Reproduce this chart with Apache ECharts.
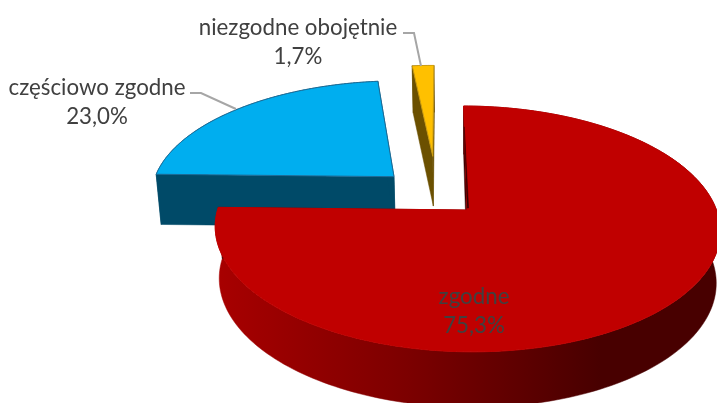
<!DOCTYPE html>
<html>
<head>
<meta charset="utf-8">
<title>Pie</title>
<script src="https://cdn.jsdelivr.net/npm/echarts@6/dist/echarts.min.js"></script>
<style>
    html, body {margin: 0; padding: 0; background: #fff;}
    #chart {width: 717px; height: 403px;}
</style>
</head>
<body>
<div id="chart"></div>
<script>
var categories = ['zgodne', 'częściowo zgodne', 'niezgodne obojętnie'];
var shares = [75.3, 23.0, 1.7];

// perspective of the pie plane
var cx = 467, cy = 210, radiusX = 249.5, radiusY = 120, tilt = 0.154, shear = 0.04, startAngle = 0.2;
// how far each slice is pulled out, in pie radii (x right, y to the back)
var explode = [[0, 0], [-0.3, 0.29], [-0.138, 0.48]];
var topColors = ['#c00000', '#00aeef', '#ffc000'];
var edgeColors = ['#c00000', '#1c6a96', '#c99a10'];
var wallColors = [
    {type: 'linear', x: 216, y: 0, x2: 600, y2: 0, global: true, colorStops: [
        {offset: 0, color: '#a80000'},
        {offset: 0.5, color: '#7c0000'},
        {offset: 1, color: '#480000'}
    ]},
    '#004a68',
    '#6b5000'
];
var sliceZ = [30, 10, 20];
// label centre and leader line points
var labelPos = [[474, 311], [97, 102], [298, 42]];
var leaders = [null, [[190, 93], [201, 93], [236, 109]], [[403, 33], [414, 33], [421, 66]]];

function project(x, y) {
    var w = 1 + tilt * y;
    var sy = cy - radiusY * y / w;
    return [cx + radiusX * x / w + shear * (sy - cy), sy];
}

// same point on the bottom of the pie
function lower(p) {
    return [p[0] + (cx - p[0]) * 0.016, p[1] + 51 + (p[1] - 200) * 0.03];
}

function slicePoint(i, angle) {
    var a = angle * Math.PI / 180;
    return project(Math.sin(a) + explode[i][0], Math.cos(a) + explode[i][1]);
}

function renderSlice(params, api) {
    var i = params.dataIndex;
    var from = startAngle;
    for (var k = 0; k < i; k++) {
        from += shares[k] * 3.6;
    }
    var to = from + api.value(0) * 3.6;

    var arc = [];
    for (var n = 0; n <= 200; n++) {
        arc.push(slicePoint(i, from + (to - from) * n / 200));
    }
    var apex = project(explode[i][0], explode[i][1]);
    var first = arc[0], last = arc[arc.length - 1];
    var z = sliceZ[i];
    var wall = wallColors[i];

    function poly(points, fill, stroke, zz) {
        return {
            type: 'polygon',
            shape: {points: points},
            style: {fill: fill, stroke: stroke || fill, lineWidth: stroke ? 1 : 0.5},
            z2: zz
        };
    }

    var children = [
        poly(arc.concat(arc.map(lower).reverse()), wall, null, z),
        poly([apex, first, lower(first), lower(apex)], i === 0 ? '#3a0000' : wall, null, z),
        poly([apex, last, lower(last), lower(apex)], i === 0 ? '#3a0000' : wall, null, z),
        poly([apex].concat(arc), topColors[i], edgeColors[i], z + 1)
    ];

    // thin dark shadow along the cut of the big slice
    if (i === 0) {
        var along = [first[0] + (apex[0] - first[0]) * 0.2, first[1] + (apex[1] - first[1]) * 0.2];
        children.push(poly([along, [apex[0] + 1.6, apex[1] - 2], [apex[0] + 0.2, apex[1] - 2]], '#3a0000', null, z + 2));
    }

    if (leaders[i]) {
        children.push({
            type: 'polyline',
            shape: {points: leaders[i]},
            style: {stroke: '#a6a6a6', lineWidth: 2, fill: null},
            z2: 50
        });
    }

    var value = api.value(0).toFixed(1).replace('.', ',') + '%';
    children.push({
        type: 'text',
        style: {
            x: labelPos[i][0],
            y: labelPos[i][1],
            text: categories[i] + '\n' + value,
            fill: '#404040',
            font: '22.3px Lato',
            lineHeight: 29,
            align: 'center',
            verticalAlign: 'middle'
        },
        z2: 60
    });
    return {type: 'group', children: children};
}

var myChart = echarts.init(document.getElementById('chart'));
myChart.setOption({
    animation: false,
    series: [
        {
            type: 'custom',
            coordinateSystem: 'none',
            silent: true,
            renderItem: renderSlice,
            data: shares.map(function (v) { return [v]; })
        }
    ]
});
</script>
</body>
</html>
